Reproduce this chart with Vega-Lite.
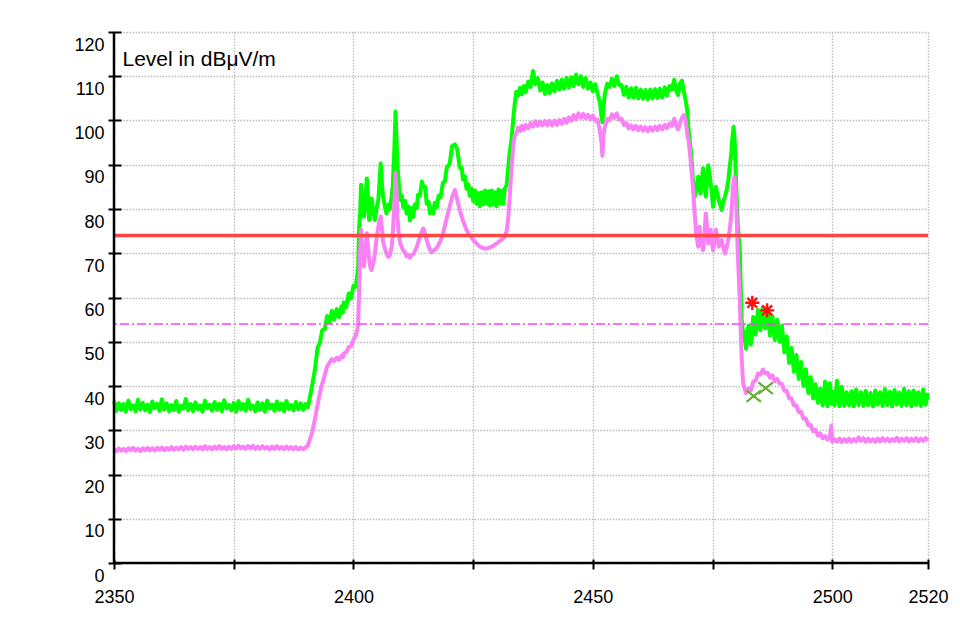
{
"$schema": "https://vega.github.io/schema/vega-lite/v6.json",
"width": 814, "height": 531,
"autosize": {"type": "none"},
"padding": {"left": 114, "top": 32, "right": 32, "bottom": 58},
"background": "white",
"config": {"view": {"stroke": null}, "font": "Liberation Sans"},
"datasets": {
"trace": [
{"f":2350.0,"pk":36.6,"av":25.7},{"f":2350.5,"pk":34.4,"av":25.3},{"f":2351.0,"pk":36.1,"av":25.9},{"f":2351.5,"pk":34.6,"av":25.4},{"f":2352.0,"pk":35.9,"av":25.8},{"f":2352.5,"pk":34.2,"av":25.3},{"f":2353.0,"pk":36.7,"av":25.9},{"f":2353.5,"pk":34.8,"av":25.5},{"f":2354.0,"pk":35.6,"av":26.0},{"f":2354.5,"pk":34.3,"av":25.4},
{"f":2355.0,"pk":36.9,"av":25.8},{"f":2355.5,"pk":34.7,"av":25.3},{"f":2356.0,"pk":36.2,"av":25.9},{"f":2356.5,"pk":34.5,"av":25.5},{"f":2357.0,"pk":35.8,"av":26.0},{"f":2357.5,"pk":34.1,"av":25.5},{"f":2358.0,"pk":36.5,"av":25.9},{"f":2358.5,"pk":35.0,"av":25.4},{"f":2359.0,"pk":36.0,"av":26.0},{"f":2359.5,"pk":34.4,"av":25.6},
{"f":2360.0,"pk":37.0,"av":26.1},{"f":2360.5,"pk":34.7,"av":25.5},{"f":2361.0,"pk":36.1,"av":26.0},{"f":2361.5,"pk":34.3,"av":25.6},{"f":2362.0,"pk":35.7,"av":26.2},{"f":2362.5,"pk":34.6,"av":25.6},{"f":2363.0,"pk":36.6,"av":26.1},{"f":2363.5,"pk":34.2,"av":25.7},{"f":2364.0,"pk":35.5,"av":26.2},{"f":2364.5,"pk":34.9,"av":25.6},
{"f":2365.0,"pk":37.1,"av":26.3},{"f":2365.5,"pk":34.5,"av":25.8},{"f":2366.0,"pk":35.9,"av":26.2},{"f":2366.5,"pk":34.3,"av":25.7},{"f":2367.0,"pk":36.3,"av":26.3},{"f":2367.5,"pk":34.8,"av":25.8},{"f":2368.0,"pk":35.6,"av":26.2},{"f":2368.5,"pk":34.2,"av":25.7},{"f":2369.0,"pk":36.7,"av":26.4},{"f":2369.5,"pk":35.0,"av":25.8},
{"f":2370.0,"pk":35.8,"av":26.2},{"f":2370.5,"pk":34.4,"av":25.7},{"f":2371.0,"pk":36.4,"av":26.3},{"f":2371.5,"pk":34.6,"av":25.8},{"f":2372.0,"pk":36.0,"av":26.4},{"f":2372.5,"pk":34.3,"av":25.8},{"f":2373.0,"pk":36.8,"av":26.2},{"f":2373.5,"pk":34.9,"av":25.7},{"f":2374.0,"pk":35.7,"av":26.3},{"f":2374.5,"pk":34.5,"av":25.8},
{"f":2375.0,"pk":36.2,"av":26.4},{"f":2375.5,"pk":34.2,"av":25.9},{"f":2376.0,"pk":36.6,"av":26.5},{"f":2376.5,"pk":34.7,"av":25.9},{"f":2377.0,"pk":35.9,"av":26.3},{"f":2377.5,"pk":34.4,"av":25.8},{"f":2378.0,"pk":36.9,"av":26.4},{"f":2378.5,"pk":34.8,"av":25.9},{"f":2379.0,"pk":35.6,"av":26.5},{"f":2379.5,"pk":34.3,"av":25.8},
{"f":2380.0,"pk":36.3,"av":26.3},{"f":2380.5,"pk":34.6,"av":25.8},{"f":2381.0,"pk":36.1,"av":26.4},{"f":2381.5,"pk":34.2,"av":25.9},{"f":2382.0,"pk":36.7,"av":26.2},{"f":2382.5,"pk":34.9,"av":25.7},{"f":2383.0,"pk":35.8,"av":26.3},{"f":2383.5,"pk":34.4,"av":25.8},{"f":2384.0,"pk":36.5,"av":26.4},{"f":2384.5,"pk":34.6,"av":25.8},
{"f":2385.0,"pk":36.0,"av":26.2},{"f":2385.5,"pk":34.3,"av":25.7},{"f":2386.0,"pk":36.6,"av":26.3},{"f":2386.5,"pk":34.8,"av":25.8},{"f":2387.0,"pk":35.7,"av":26.2},{"f":2387.5,"pk":34.5,"av":25.7},{"f":2388.0,"pk":36.4,"av":26.2},{"f":2388.5,"pk":34.7,"av":25.7},{"f":2389.0,"pk":36.1,"av":26.1},{"f":2389.5,"pk":34.6,"av":25.7},
{"f":2390.0,"pk":35.9,"av":26.1},{"f":2390.5,"pk":35.2,"av":26.6},{"f":2391.0,"pk":38.0,"av":28.2},{"f":2391.5,"pk":40.8,"av":30.0},{"f":2392.0,"pk":44.0,"av":32.8},{"f":2392.5,"pk":48.6,"av":35.6},{"f":2393.0,"pk":49.8,"av":38.4},{"f":2393.5,"pk":52.6,"av":40.6},{"f":2394.0,"pk":52.8,"av":42.4},{"f":2394.5,"pk":55.8,"av":44.4},
{"f":2395.0,"pk":54.4,"av":45.3},{"f":2395.5,"pk":57.0,"av":46.1},{"f":2396.0,"pk":55.0,"av":45.7},{"f":2396.5,"pk":57.4,"av":46.4},{"f":2397.0,"pk":55.6,"av":45.9},{"f":2397.5,"pk":58.0,"av":46.8},{"f":2397.8,"pk":56.6,"av":46.5},{"f":2398.0,"pk":58.9,"av":47.4},{"f":2398.5,"pk":57.8,"av":47.6},{"f":2399.0,"pk":60.9,"av":48.8},
{"f":2399.5,"pk":59.8,"av":48.9},{"f":2400.0,"pk":62.6,"av":50.4},{"f":2400.5,"pk":62.4,"av":51.5},{"f":2400.8,"pk":65.0,"av":52.6},{"f":2401.0,"pk":67.0,"av":54.5},{"f":2401.2,"pk":76.0,"av":62.0},{"f":2401.4,"pk":79.0,"av":70.0},{"f":2401.6,"pk":85.5,"av":75.3},
{"f":2401.9,"pk":80.0,"av":70.0},{"f":2402.2,"pk":78.3,"av":67.0},{"f":2402.5,"pk":82.0,"av":70.5},{"f":2402.8,"pk":86.9,"av":74.5},{"f":2403.1,"pk":80.5,"av":71.0},{"f":2403.3,"pk":77.5,"av":68.5},{"f":2403.6,"pk":80.0,"av":66.5},{"f":2403.8,"pk":82.4,"av":66.2},{"f":2404.2,"pk":79.0,"av":68.0},{"f":2404.5,"pk":77.5,"av":70.0},
{"f":2404.8,"pk":80.0,"av":73.0},{"f":2405.2,"pk":82.0,"av":76.0},{"f":2405.5,"pk":87.0,"av":77.5},{"f":2405.7,"pk":90.3,"av":78.3},{"f":2406.0,"pk":85.0,"av":75.0},{"f":2406.2,"pk":82.8,"av":72.5},{"f":2406.6,"pk":80.5,"av":71.0},{"f":2406.9,"pk":79.0,"av":70.0},{"f":2407.3,"pk":81.0,"av":69.2},{"f":2407.6,"pk":80.0,"av":69.5},
{"f":2408.0,"pk":83.0,"av":71.5},{"f":2408.2,"pk":85.0,"av":74.0},{"f":2408.5,"pk":92.0,"av":80.0},{"f":2408.8,"pk":102.0,"av":88.0},{"f":2409.0,"pk":96.0,"av":84.0},{"f":2409.2,"pk":90.0,"av":78.0},{"f":2409.5,"pk":85.5,"av":74.0},{"f":2409.8,"pk":82.0,"av":72.2},{"f":2410.1,"pk":83.0,"av":71.4},{"f":2410.4,"pk":80.4,"av":70.6},
{"f":2410.8,"pk":81.8,"av":70.2},{"f":2411.1,"pk":79.0,"av":69.3},{"f":2411.5,"pk":80.6,"av":69.6},{"f":2411.8,"pk":77.4,"av":69.0},{"f":2412.2,"pk":80.2,"av":69.6},{"f":2412.5,"pk":78.2,"av":69.8},{"f":2412.8,"pk":81.0,"av":70.4},{"f":2413.2,"pk":80.2,"av":71.3},{"f":2413.5,"pk":83.2,"av":72.4},{"f":2413.9,"pk":83.0,"av":73.7},
{"f":2414.3,"pk":86.2,"av":75.0},{"f":2414.6,"pk":85.0,"av":75.6},{"f":2415.0,"pk":85.0,"av":74.3},{"f":2415.3,"pk":81.2,"av":73.0},{"f":2415.7,"pk":81.6,"av":71.6},{"f":2416.0,"pk":79.0,"av":70.8},{"f":2416.3,"pk":80.2,"av":70.2},{"f":2416.7,"pk":79.0,"av":70.6},{"f":2417.0,"pk":81.4,"av":70.8},{"f":2417.4,"pk":80.4,"av":71.2},
{"f":2417.8,"pk":83.0,"av":72.0},{"f":2418.2,"pk":82.6,"av":72.8},{"f":2418.7,"pk":86.0,"av":74.4},{"f":2419.1,"pk":86.2,"av":76.2},{"f":2419.5,"pk":89.4,"av":78.0},{"f":2420.1,"pk":90.2,"av":80.5},{"f":2420.6,"pk":94.2,"av":82.6},{"f":2421.2,"pk":94.6,"av":84.3},{"f":2421.7,"pk":93.4,"av":82.0},{"f":2422.2,"pk":89.4,"av":79.8},
{"f":2422.6,"pk":89.4,"av":78.3},{"f":2422.9,"pk":86.6,"av":77.3},{"f":2423.3,"pk":87.4,"av":76.2},{"f":2423.6,"pk":84.6,"av":75.3},{"f":2424.0,"pk":85.6,"av":74.5},{"f":2424.3,"pk":83.0,"av":74.0},{"f":2424.7,"pk":84.6,"av":73.5},{"f":2425.0,"pk":81.8,"av":73.0},{"f":2425.4,"pk":84.2,"av":72.6},{"f":2425.7,"pk":81.2,"av":72.2},
{"f":2426.1,"pk":83.6,"av":71.8},{"f":2426.4,"pk":80.6,"av":71.5},{"f":2426.8,"pk":83.8,"av":71.3},{"f":2427.1,"pk":81.0,"av":71.2},{"f":2427.5,"pk":84.2,"av":71.0},{"f":2427.8,"pk":81.2,"av":71.1},{"f":2428.2,"pk":84.0,"av":71.2},{"f":2428.5,"pk":80.8,"av":71.3},{"f":2428.9,"pk":84.2,"av":71.5},{"f":2429.2,"pk":81.0,"av":71.7},
{"f":2429.6,"pk":83.8,"av":72.0},{"f":2429.9,"pk":80.6,"av":72.2},{"f":2430.3,"pk":84.4,"av":72.5},{"f":2430.6,"pk":81.2,"av":72.8},{"f":2431.0,"pk":84.2,"av":73.1},{"f":2431.3,"pk":81.2,"av":73.4},{"f":2431.6,"pk":84.6,"av":73.7},{"f":2432.0,"pk":85.4,"av":75.0},{"f":2432.3,"pk":88.8,"av":77.5},
{"f":2432.6,"pk":92.5,"av":82.0},{"f":2433.0,"pk":95.6,"av":89.0},{"f":2433.4,"pk":100.5,"av":94.5},{"f":2433.7,"pk":103.9,"av":96.6},{"f":2434.0,"pk":106.5,"av":97.0},{"f":2434.4,"pk":105.6,"av":98.4},{"f":2434.8,"pk":107.4,"av":97.6},{"f":2435.2,"pk":105.9,"av":98.8},{"f":2435.6,"pk":107.8,"av":97.9},{"f":2436.0,"pk":106.4,"av":99.0},
{"f":2436.5,"pk":108.8,"av":98.2},{"f":2437.0,"pk":107.6,"av":99.4},{"f":2437.5,"pk":111.2,"av":98.6},{"f":2438.0,"pk":108.2,"av":99.8},{"f":2438.5,"pk":109.6,"av":98.8},{"f":2439.0,"pk":106.8,"av":99.8},{"f":2439.5,"pk":108.6,"av":98.9},{"f":2440.0,"pk":106.0,"av":99.9},{"f":2440.5,"pk":108.0,"av":98.9},{"f":2441.0,"pk":106.2,"av":99.9},
{"f":2441.5,"pk":108.4,"av":98.9},{"f":2442.0,"pk":106.6,"av":100.0},{"f":2442.5,"pk":109.0,"av":99.0},{"f":2443.0,"pk":107.0,"av":100.1},{"f":2443.5,"pk":109.2,"av":99.2},{"f":2444.0,"pk":107.2,"av":100.4},{"f":2444.5,"pk":109.6,"av":99.5},{"f":2445.0,"pk":107.4,"av":100.7},{"f":2445.5,"pk":109.8,"av":99.9},{"f":2446.0,"pk":107.8,"av":101.2},
{"f":2446.5,"pk":110.4,"av":100.3},{"f":2447.0,"pk":108.2,"av":101.6},{"f":2447.5,"pk":110.0,"av":100.6},{"f":2448.0,"pk":107.6,"av":101.5},{"f":2448.5,"pk":109.6,"av":100.5},{"f":2449.0,"pk":107.2,"av":101.3},{"f":2449.5,"pk":108.6,"av":100.3},{"f":2450.0,"pk":106.6,"av":101.1},{"f":2450.5,"pk":108.2,"av":100.0},{"f":2451.0,"pk":106.0,"av":100.2},
{"f":2451.5,"pk":104.0,"av":97.5},{"f":2451.8,"pk":101.0,"av":95.0},{"f":2452.0,"pk":99.6,"av":92.0},{"f":2452.2,"pk":102.5,"av":96.5},{"f":2452.5,"pk":106.0,"av":98.4},{"f":2453.0,"pk":108.3,"av":100.4},{"f":2453.5,"pk":107.6,"av":100.0},{"f":2454.0,"pk":109.4,"av":101.4},{"f":2454.5,"pk":107.8,"av":100.6},{"f":2455.0,"pk":110.0,"av":101.6},
{"f":2455.5,"pk":108.0,"av":100.2},{"f":2456.0,"pk":108.0,"av":100.4},{"f":2456.5,"pk":105.8,"av":99.0},{"f":2457.0,"pk":107.6,"av":99.4},{"f":2457.5,"pk":105.2,"av":98.2},{"f":2458.0,"pk":107.3,"av":98.9},{"f":2458.5,"pk":105.2,"av":98.0},{"f":2459.0,"pk":107.4,"av":98.8},{"f":2459.5,"pk":105.0,"av":97.8},{"f":2460.0,"pk":107.0,"av":98.6},
{"f":2460.5,"pk":104.9,"av":97.7},{"f":2461.0,"pk":106.9,"av":98.5},{"f":2461.5,"pk":104.8,"av":97.6},{"f":2462.0,"pk":107.0,"av":98.5},{"f":2462.5,"pk":105.0,"av":97.7},{"f":2463.0,"pk":107.1,"av":98.6},{"f":2463.5,"pk":105.1,"av":97.8},{"f":2464.0,"pk":107.2,"av":98.8},{"f":2464.5,"pk":105.2,"av":98.0},{"f":2465.0,"pk":107.5,"av":99.0},
{"f":2465.5,"pk":105.6,"av":98.3},{"f":2466.0,"pk":107.8,"av":99.3},{"f":2466.5,"pk":107.0,"av":98.8},{"f":2467.0,"pk":109.2,"av":100.4},{"f":2467.4,"pk":106.8,"av":99.0},{"f":2467.8,"pk":105.8,"av":98.0},{"f":2468.2,"pk":108.4,"av":99.4},{"f":2468.6,"pk":109.0,"av":100.6},{"f":2469.0,"pk":106.6,"av":101.2},{"f":2469.4,"pk":104.5,"av":100.0},
{"f":2469.7,"pk":102.4,"av":97.0},{"f":2470.0,"pk":98.0,"av":95.5},{"f":2470.3,"pk":94.8,"av":92.5},{"f":2470.6,"pk":91.8,"av":88.8},{"f":2470.9,"pk":86.6,"av":85.0},
{"f":2471.3,"pk":82.8,"av":78.5},{"f":2471.6,"pk":84.5,"av":74.5},{"f":2472.0,"pk":87.3,"av":71.5},{"f":2472.3,"pk":84.5,"av":76.0},{"f":2472.5,"pk":83.5,"av":73.5},{"f":2473.0,"pk":89.2,"av":70.7},{"f":2473.3,"pk":86.0,"av":74.0},{"f":2473.6,"pk":82.8,"av":79.0},{"f":2473.9,"pk":86.5,"av":75.5},{"f":2474.1,"pk":89.9,"av":72.2},
{"f":2474.4,"pk":87.5,"av":74.0},{"f":2474.6,"pk":85.8,"av":75.3},{"f":2474.9,"pk":83.0,"av":72.5},{"f":2475.1,"pk":80.5,"av":70.7},{"f":2475.4,"pk":83.0,"av":73.0},{"f":2475.7,"pk":85.0,"av":75.3},{"f":2476.0,"pk":83.5,"av":73.5},{"f":2476.3,"pk":82.0,"av":71.5},{"f":2476.6,"pk":81.0,"av":72.5},{"f":2476.9,"pk":79.8,"av":73.0},
{"f":2477.2,"pk":81.5,"av":71.5},{"f":2477.6,"pk":82.8,"av":70.0},{"f":2478.0,"pk":84.5,"av":71.5},{"f":2478.3,"pk":86.6,"av":73.0},{"f":2478.6,"pk":89.5,"av":75.5},{"f":2478.9,"pk":92.5,"av":78.3},{"f":2479.1,"pk":95.5,"av":82.0},{"f":2479.4,"pk":98.6,"av":86.5},{"f":2479.6,"pk":96.0,"av":87.3},{"f":2479.8,"pk":90.0,"av":83.5},
{"f":2480.0,"pk":83.5,"av":79.8},{"f":2480.3,"pk":76.0,"av":69.2},{"f":2480.7,"pk":70.7,"av":59.4},{"f":2480.9,"pk":62.0,"av":52.0},{"f":2481.1,"pk":55.0,"av":46.0},{"f":2481.4,"pk":51.5,"av":40.5},
{"f":2481.5,"pk":52.5,"av":40.2},{"f":2482.0,"pk":48.4,"av":38.4},{"f":2482.5,"pk":53.6,"av":39.4},{"f":2483.0,"pk":49.4,"av":39.0},{"f":2483.5,"pk":55.6,"av":41.0},{"f":2484.0,"pk":51.6,"av":41.2},{"f":2484.5,"pk":57.2,"av":42.8},{"f":2485.0,"pk":52.6,"av":42.6},{"f":2485.5,"pk":57.8,"av":43.7},{"f":2486.0,"pk":53.0,"av":42.9},
{"f":2486.5,"pk":57.2,"av":43.0},{"f":2487.0,"pk":51.4,"av":41.9},{"f":2487.5,"pk":55.8,"av":42.4},{"f":2488.0,"pk":50.4,"av":41.1},{"f":2488.5,"pk":55.0,"av":41.6},{"f":2489.0,"pk":50.0,"av":40.6},{"f":2489.5,"pk":53.6,"av":40.4},{"f":2490.0,"pk":47.6,"av":38.9},{"f":2490.5,"pk":51.2,"av":38.9},{"f":2491.0,"pk":45.2,"av":37.2},
{"f":2491.5,"pk":48.6,"av":37.2},{"f":2492.0,"pk":43.2,"av":35.6},{"f":2492.5,"pk":47.0,"av":35.6},{"f":2493.0,"pk":41.6,"av":34.1},{"f":2493.5,"pk":45.4,"av":34.2},{"f":2494.0,"pk":40.0,"av":32.6},{"f":2494.5,"pk":43.8,"av":32.6},{"f":2495.0,"pk":38.4,"av":31.1},{"f":2495.5,"pk":42.0,"av":31.2},{"f":2496.0,"pk":37.2,"av":29.8},
{"f":2496.5,"pk":40.4,"av":30.1},{"f":2497.0,"pk":36.2,"av":28.8},{"f":2497.5,"pk":39.4,"av":29.3},{"f":2498.0,"pk":35.6,"av":28.2},{"f":2498.5,"pk":41.0,"av":28.7},{"f":2499.0,"pk":35.4,"av":27.9},{"f":2499.5,"pk":40.6,"av":28.5},{"f":2499.8,"pk":36.0,"av":31.0},{"f":2500.0,"pk":38.8,"av":27.4},{"f":2500.5,"pk":35.6,"av":28.0},
{"f":2501.0,"pk":41.2,"av":27.4},{"f":2501.5,"pk":35.4,"av":28.1},{"f":2502.0,"pk":39.8,"av":27.3},{"f":2502.5,"pk":35.5,"av":28.0},{"f":2503.0,"pk":38.6,"av":27.4},{"f":2503.5,"pk":35.6,"av":28.1},{"f":2504.0,"pk":38.8,"av":27.4},{"f":2504.5,"pk":35.4,"av":28.0},{"f":2505.0,"pk":39.2,"av":27.5},{"f":2505.5,"pk":35.7,"av":28.4},
{"f":2506.0,"pk":38.6,"av":27.6},{"f":2506.5,"pk":35.5,"av":28.2},{"f":2507.0,"pk":38.9,"av":27.4},{"f":2507.5,"pk":35.6,"av":28.1},{"f":2508.0,"pk":38.4,"av":27.5},{"f":2508.5,"pk":35.4,"av":28.0},{"f":2509.0,"pk":39.0,"av":27.4},{"f":2509.5,"pk":35.8,"av":28.1},{"f":2510.0,"pk":38.6,"av":27.5},{"f":2510.5,"pk":35.5,"av":28.2},
{"f":2511.0,"pk":39.3,"av":27.6},{"f":2511.5,"pk":35.7,"av":28.1},{"f":2512.0,"pk":38.7,"av":27.5},{"f":2512.5,"pk":35.4,"av":28.0},{"f":2513.0,"pk":39.1,"av":27.6},{"f":2513.5,"pk":35.8,"av":28.3},{"f":2514.0,"pk":38.5,"av":27.5},{"f":2514.5,"pk":35.5,"av":28.1},{"f":2515.0,"pk":39.4,"av":27.6},{"f":2515.5,"pk":35.6,"av":28.2},
{"f":2516.0,"pk":38.8,"av":27.5},{"f":2516.5,"pk":35.4,"av":28.1},{"f":2517.0,"pk":39.0,"av":27.6},{"f":2517.5,"pk":35.7,"av":28.2},{"f":2518.0,"pk":38.6,"av":27.5},{"f":2518.5,"pk":35.5,"av":28.1},{"f":2519.0,"pk":39.2,"av":27.6},{"f":2519.5,"pk":35.8,"av":28.2},{"f":2520.0,"pk":38.4,"av":27.7}
],
"peakMarks": [{"f":2483.3,"level":58.8},{"f":2486.4,"level":57.1}],
"avgMarks": [{"f":2483.6,"level":37.7},{"f":2486.1,"level":39.5}]
},
"layer": [
{
"data": {"name": "trace"},
"mark": {"type": "line", "color": "#00ff00", "strokeWidth": 4, "strokeJoin": "round"},
"encoding": {
"x": {"field": "f", "type": "quantitative",
 "scale": {"domain": [2350, 2520], "nice": false, "zero": false},
 "axis": {"title": null, "values": [2350,2375,2400,2425,2450,2475,2500,2520],
  "labelExpr": "(datum.value % 50 === 0 || datum.value === 2520) ? datum.value : ''",
  "offset": -4, "tickSize": 10, "tickWidth": 2, "tickColor": "black", "domain": false,
  "labelFontSize": 18, "labelColor": "black", "labelPadding": 19, "labelFlush": false, "labelOverlap": false, "labelFont": "Liberation Sans",
  "grid": true, "gridColor": "#bcbcbc", "gridDash": [1.5, 1.5], "gridWidth": 1.3}},
"y": {"field": "pk", "type": "quantitative",
 "scale": {"domain": [0, 120], "nice": false},
 "axis": {"title": "Level in dBμV/m", "values": [0,5,10,15,20,25,30,35,40,45,50,55,60,65,70,75,80,85,90,95,100,105,110,115,120],
  "labelExpr": "datum.value % 10 === 0 ? datum.value : ''",
  "offset": -7, "tickSize": 13, "tickWidth": 2, "tickColor": "black", "domain": false,
  "labelFontSize": 18, "labelColor": "black", "labelPadding": 4, "labelOffset": 13, "labelBaseline": "middle", "labelFlush": false, "labelOverlap": false, "labelFont": "Liberation Sans",
  "grid": true, "gridColor": "#bcbcbc", "gridDash": [1.5, 1.5], "gridWidth": 1.3,
  "titleAngle": 0, "titleAlign": "left", "titleBaseline": "alphabetic", "titleX": 1, "titleY": 33,
  "titleFontSize": 21, "titleFontWeight": "normal", "titleColor": "black", "titleFont": "Liberation Sans"}}
}
},
{
"data": {"name": "trace"},
"mark": {"type": "line", "color": "#fa80f5", "strokeWidth": 4, "strokeJoin": "round"},
"encoding": {"x": {"field": "f", "type": "quantitative"}, "y": {"field": "av", "type": "quantitative"}}
},
{
"data": {"values": [{}]},
"mark": {"type": "rule", "color": "#ff4545", "strokeWidth": 3.5},
"encoding": {"y": {"datum": 74, "type": "quantitative"}}
},
{
"data": {"values": [{}]},
"mark": {"type": "rule", "color": "#ff40ff", "strokeWidth": 1.6, "strokeDash": [9, 3, 2, 3]},
"encoding": {"y": {"datum": 54, "type": "quantitative"}}
},
{
"data": {"values": [{}]},
"mark": {"type": "rule", "color": "black", "strokeWidth": 2.5},
"encoding": {"x": {"datum": 2350, "type": "quantitative"}, "y": {"datum": 0, "type": "quantitative"}, "y2": {"datum": 120}}
},
{
"data": {"values": [{}]},
"mark": {"type": "rule", "color": "black", "strokeWidth": 2.5},
"encoding": {"x": {"datum": 2350, "type": "quantitative"}, "x2": {"datum": 2520}, "y": {"datum": 0, "type": "quantitative"}}
},
{
"data": {"name": "peakMarks"},
"mark": {"type": "point", "shape": "M-1,0L1,0M0,-1L0,1M-0.7,-0.7L0.7,0.7M-0.7,0.7L0.7,-0.7", "filled": false, "color": "#ff1010", "strokeWidth": 2.4, "size": 200, "opacity": 1},
"encoding": {"x": {"field": "f", "type": "quantitative"}, "y": {"field": "level", "type": "quantitative"}}
},
{
"data": {"name": "avgMarks"},
"mark": {"type": "point", "shape": "M-1,-0.8L1,0.8M-1,0.8L1,-0.8", "filled": false, "color": "#66b032", "strokeWidth": 2.2, "size": 210, "opacity": 1},
"encoding": {"x": {"field": "f", "type": "quantitative"}, "y": {"field": "level", "type": "quantitative"}}
}
]
}
